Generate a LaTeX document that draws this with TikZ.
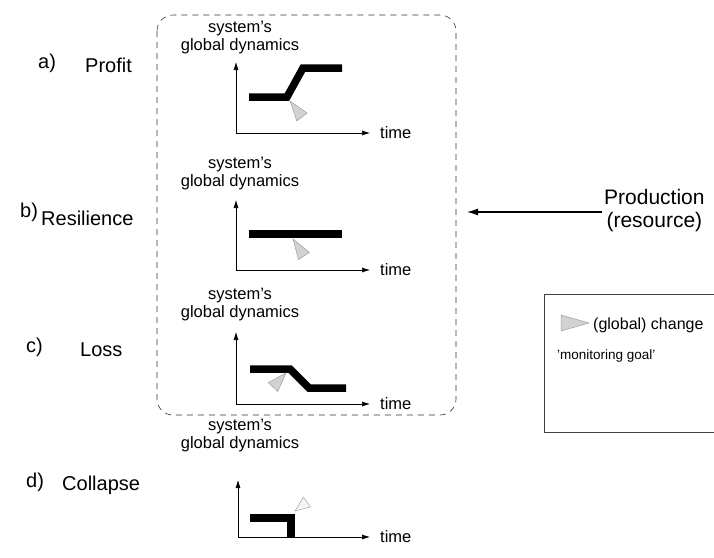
\documentclass[tikz,border=0pt]{standalone}
\usepackage{fontspec}
\setmainfont{Liberation Sans}
\usetikzlibrary{calc,arrows.meta}
\begin{document}
\begin{tikzpicture}[x=1pt,y=-1pt,
  axis/.style={line width=0.6pt,-{Latex[length=8pt,width=5pt]}},
  trend/.style={line width=7.5pt,line join=miter,line cap=butt},
  cue/.style={fill=gray!35,draw=gray!75,line width=0.5pt},
  cueopen/.style={fill=gray!8,draw=gray!70,line width=0.5pt},
  ytitle/.style={font=\fontsize{16.5}{18}\selectfont,align=center,inner sep=0pt},
  tlabel/.style={font=\fontsize{16.5}{18}\selectfont,anchor=west,inner sep=0pt},
  caselbl/.style={font=\fontsize{20}{24}\selectfont,anchor=west,inner sep=0pt},
  frame/.style={dashed,dash pattern=on 6pt off 5pt,line width=0.6pt,draw=black!80,rounded corners=16pt},
  legendline/.style={line width=0.5pt,draw=black!75}]
\useasboundingbox (0,0) rectangle (714,557);

% cone marker: apex #1, base centre #2, half-width #3, style #4
\newcommand\markcone[4]{%
  \path[#4] (#1) -- ($(#2)!#3!90:(#1)$) -- ($(#2)!#3!-90:(#1)$) -- cycle;}

% dashed frame around the three monitored cases
\draw[frame] (157,15) rectangle (456,415);

% ---------- a) Profit ----------
\coordinate (oa) at (236,133);
\node[ytitle] (ta) at (240,38) {system's\\global dynamics};
\draw[axis] (oa) -- (236,62);
\draw[axis] (oa) -- (370,133);
\node[tlabel] (xa) at (380,133) {time};
\draw[trend] (249,97) -- (287,97) -- (303,68) -- (342,68);
\markcone{290,101}{302,117}{6.5pt}{cue}
\node[caselbl] (la) at (38,63) {a)};
\node[caselbl] (pa) at (85,65) {Profit};

% ---------- b) Resilience ----------
\coordinate (ob) at (236,270);
\node[ytitle] (tb) at (240,174) {system's\\global dynamics};
\draw[axis] (ob) -- (236,200);
\draw[axis] (ob) -- (370,270);
\node[tlabel] (xb) at (380,270) {time};
\draw[trend] (249,234) -- (342,234);
\markcone{293,239}{304,256}{6.5pt}{cue}
\node[caselbl] (lb) at (20,212) {b)};
\node[caselbl] (pb) at (41,218) {Resilience};

% ---------- c) Loss ----------
\coordinate (oc) at (236,404);
\node[ytitle] (tc) at (240,305) {system's\\global dynamics};
\draw[axis] (oc) -- (236,332);
\draw[axis] (oc) -- (370,404);
\node[tlabel] (xc) at (380,404) {time};
\draw[trend] (250,369) -- (290,369) -- (309,388) -- (346,388);
\markcone{286,373}{273,387}{6.5pt}{cue}
\node[caselbl] (lc) at (26,347) {c)};
\node[caselbl] (pc) at (80,350) {Loss};

% ---------- d) Collapse ----------
\coordinate (od) at (238,537);
\node[ytitle] (td) at (240,436) {system's\\global dynamics};
\draw[axis] (od) -- (238,480);
\draw[axis] (od) -- (370,537);
\node[tlabel] (xd) at (380,537) {time};
\draw[trend] (250,518) -- (290.75,518) -- (290.75,537);
\markcone{295,511}{307,502}{6pt}{cueopen}
\node[caselbl] (ld) at (26,482) {d)};
\node[caselbl] (pd) at (62,485) {Collapse};

% ---------- production input ----------
\node[font=\fontsize{21}{23}\selectfont,align=center,anchor=west,inner sep=0pt] (prod) at (604,211) {Production\\(resource)};
\coordinate (into) at (467,212);
\draw[line width=1.2pt,-{Latex[length=11pt,width=7pt]}] (prod.west) ++(-2,1) coordinate (pstart) (pstart) -- (into);

% ---------- legend ----------
\draw[legendline] (714,294) -- (544,294) -- (544,432) -- (714,432);
\markcone{589,323}{561,323}{8pt}{cue}
\node[font=\fontsize{16}{18}\selectfont,anchor=west,inner sep=0pt] (lg1) at (593,325) {(global) change};
\node[font=\fontsize{13.5}{16}\selectfont,anchor=west,inner sep=0pt] (lg2) at (557,356) {'monitoring goal'};
\end{tikzpicture}
\end{document}
